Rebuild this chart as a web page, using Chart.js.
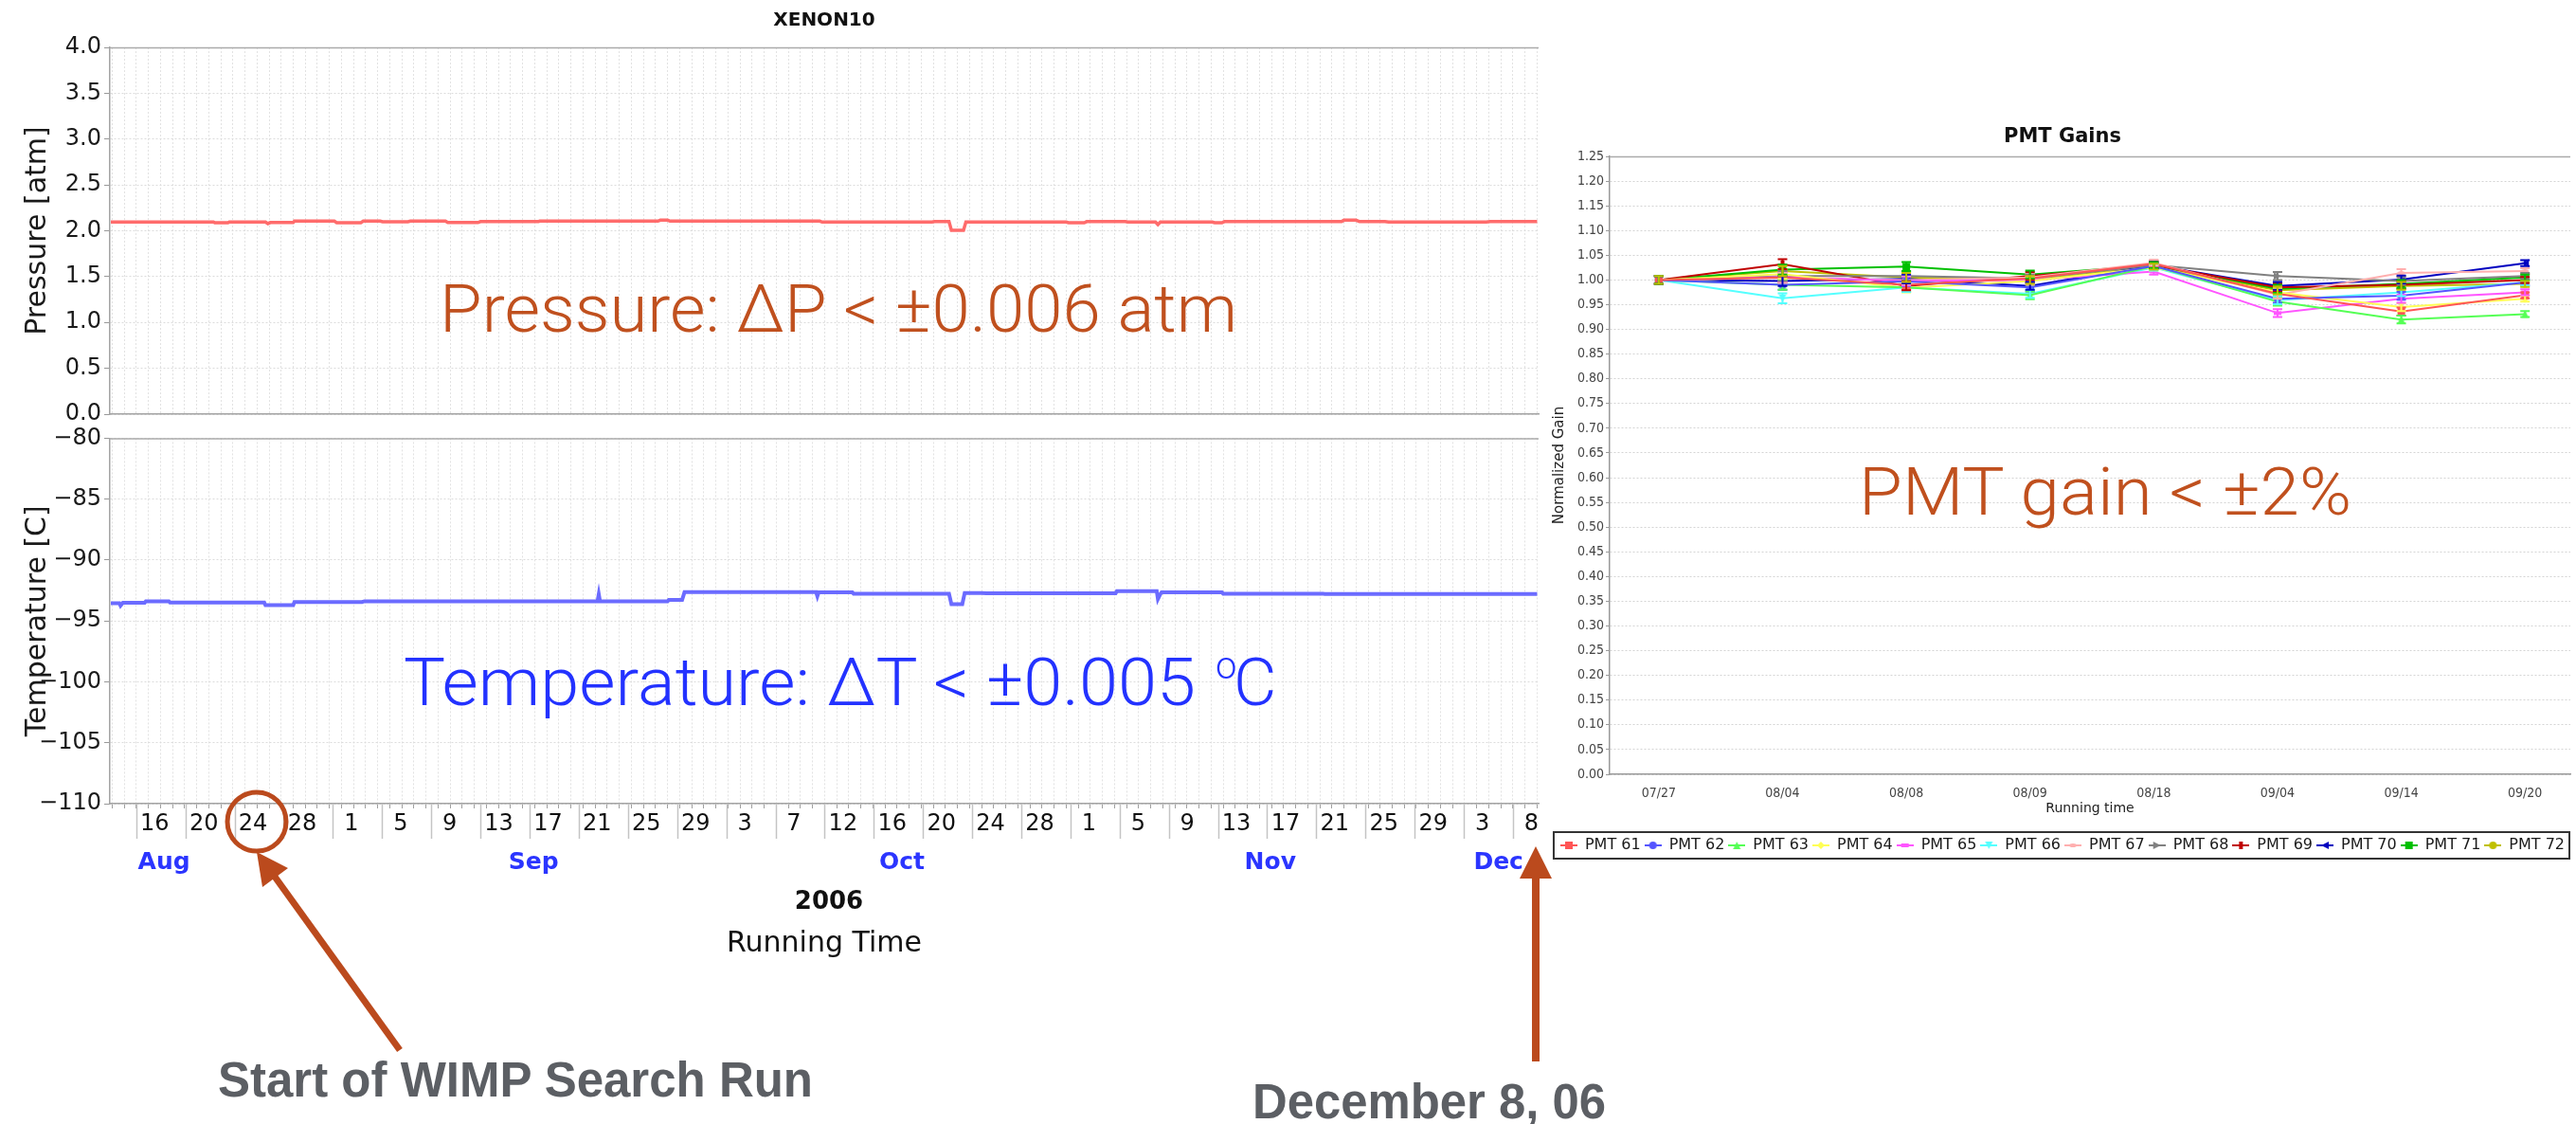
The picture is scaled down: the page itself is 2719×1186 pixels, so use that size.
<!DOCTYPE html>
<html>
<head>
<meta charset="utf-8">
<title>XENON10 stability</title>
<script src="https://cdn.jsdelivr.net/npm/chart.js"></script>
<style>
  html, body { margin: 0; padding: 0; background: #fff; }
  #page { position: relative; width: 2719px; height: 1186px; overflow: hidden; background: #fff; }
  canvas { position: absolute; }
  #cvP { left: 0; top: 0; }
  #cvT { left: 0; top: 445px; }
  #cvG { left: 1600px; top: 100px; filter: blur(0.5px); }
  #notes { position: absolute; left: 0; top: 0; }
</style>
</head>
<body>
<div id="page">
  <canvas id="cvP" width="1650" height="460" style="width:1650px;height:460px"></canvas>
  <canvas id="cvT" width="1650" height="575" style="width:1650px;height:575px"></canvas>
  <canvas id="cvG" width="1119" height="830" style="width:1119px;height:830px"></canvas>
  <svg id="notes" width="2719" height="1186" viewBox="0 0 2719 1186" xmlns="http://www.w3.org/2000/svg">
    <g font-family="Roboto, 'Open Sans', Lato, sans-serif" font-weight="300" font-size="70">
      <text x="464" y="350" fill="#c0501e" textLength="842" lengthAdjust="spacingAndGlyphs">Pressure: ΔP &lt; ±0.006 atm</text>
      <text x="426" y="744" fill="#2332ff" textLength="836" lengthAdjust="spacingAndGlyphs">Temperature: ΔT &lt; ±0.005</text>
      <text x="1283" y="716" fill="#2332ff" font-size="40">o</text>
      <text x="1302" y="744" fill="#2332ff">C</text>
      <text x="1962" y="543" fill="#c0501e" textLength="520" lengthAdjust="spacingAndGlyphs">PMT gain &lt; ±2%</text>
    </g>
    <g font-family="'Liberation Sans', Arial, Helvetica, sans-serif" font-weight="bold" font-size="51" fill="#5c5f64">
      <text x="230" y="1157" textLength="628" lengthAdjust="spacingAndGlyphs">Start of WIMP Search Run</text>
      <text x="1322" y="1180" textLength="373" lengthAdjust="spacingAndGlyphs">December 8, 06</text>
    </g>
    <g stroke="#bb4a1d" fill="none">
      <circle cx="271" cy="867" r="31" stroke-width="5"/>
      <line x1="290" y1="925" x2="422" y2="1108" stroke-width="7"/>
      <line x1="1621" y1="920" x2="1621" y2="1120" stroke-width="8"/>
    </g>
    <g fill="#bb4a1d">
      <polygon points="271,899 304,916 277,936"/>
      <polygon points="1621,893 1638,927 1604,927"/>
    </g>
  </svg>
</div>

<script>
// ---- Running time axis (days counted from 1 Aug 2006, 00:00) ----
const dayMin = 12.82;
const dayMax = 131.12;
const tickDays = [15, 19.07, 23.14, 27.21, 31.29, 35.36, 39.43, 43.5, 47.57, 51.64, 55.71, 59.79,
                  63.86, 67.93, 72.0, 76.07, 80.14, 84.21, 88.29, 92.36, 96.43, 100.5, 104.57,
                  108.64, 112.71, 116.79, 120.86, 124.93, 129.0];
const tickLabels = ['16', '20', '24', '28', '1', '5', '9', '13', '17', '21', '25', '29',
                    '3', '7', '12', '16', '20', '24', '28', '1', '5', '9', '13', '17', '21', '25', '29',
                    '3', '8'];
const labelShift = 1.53;            // day labels sit just right of their separator
const months = ['Aug', 'Sep', 'Oct', 'Nov', 'Dec'];
const monthDays = [17.3, 47.9, 78.4, 108.9, 127.8];
const yearLabel = '2006';

// ---- Pressure [atm] ----
const pressureDay = [12.9, 21.4, 21.5, 22.6, 22.7, 25.7, 25.9, 26.1, 28.0, 28.1, 31.4, 31.6, 33.6, 33.8,
  35.2, 35.4, 37.5, 37.7, 40.6, 40.8, 43.3, 43.5, 48.3, 48.4, 58.2, 58.4, 59.0, 59.2, 71.6, 71.8,
  80.9, 81.1, 82.3, 82.5, 83.5, 83.7, 92.0, 92.2, 93.5, 93.7, 96.9, 97.1, 99.4, 99.6, 99.8, 104.1,
  104.3, 104.9, 105.1, 114.8, 115.0, 116.0, 116.3, 118.4, 118.7, 126.8, 127.1, 131.0];
const pressureAtm = [2.095, 2.095, 2.088, 2.088, 2.095, 2.095, 2.078, 2.09, 2.09, 2.105, 2.105, 2.088,
  2.088, 2.105, 2.105, 2.098, 2.098, 2.105, 2.105, 2.09, 2.09, 2.1, 2.1, 2.105, 2.105, 2.115, 2.115,
  2.105, 2.105, 2.095, 2.095, 2.1, 2.1, 2.005, 2.005, 2.095, 2.095, 2.088, 2.088, 2.1, 2.1, 2.095,
  2.095, 2.068, 2.095, 2.095, 2.088, 2.088, 2.1, 2.1, 2.115, 2.115, 2.1, 2.1, 2.095, 2.095, 2.1, 2.1];

// ---- Temperature [C] ----
const tempDay = [12.9, 13.6, 13.7, 13.9, 15.7, 15.8, 17.7, 17.8, 25.6, 25.7, 28.0, 28.1, 33.7, 33.9,
  53.2, 53.3, 53.4, 59.0, 59.1, 60.2, 60.4, 71.3, 71.4, 71.5, 74.3, 74.4, 82.3, 82.5, 83.4, 83.6,
  85.0, 85.4, 96.1, 96.2, 99.5, 99.6, 99.8, 99.9, 104.9, 105.0, 113.3, 113.4, 131.0];
const tempC = [-93.54, -93.54, -93.75, -93.51, -93.51, -93.38, -93.38, -93.49, -93.49, -93.70, -93.70,
  -93.44, -93.44, -93.38, -93.38, -92.80, -93.38, -93.38, -93.28, -93.28, -92.64, -92.64, -92.97,
  -92.66, -92.66, -92.76, -92.76, -93.62, -93.62, -92.70, -92.70, -92.72, -92.72, -92.55, -92.55,
  -93.20, -92.80, -92.66, -92.66, -92.76, -92.76, -92.79, -92.79];

// ---- PMT gains (normalized) ----
const gainDates = ['07/27', '08/04', '08/08', '08/09', '08/18', '09/04', '09/14', '09/20'];
const gainErr = [0.008, 0.01, 0.009, 0.008, 0.006, 0.008, 0.008, 0.006];
const gain61 = [1.00, 1.005, 0.990, 1.003, 1.033, 0.972, 0.936, 0.969];
const gain62 = [1.00, 0.990, 0.997, 0.985, 1.028, 0.962, 0.968, 0.995];
const gain63 = [1.00, 0.990, 0.985, 0.969, 1.028, 0.956, 0.920, 0.931];
const gain64 = [1.00, 1.012, 0.984, 0.998, 1.025, 0.975, 0.945, 0.962];
const gain65 = [1.00, 1.006, 0.998, 1.000, 1.017, 0.933, 0.962, 0.975];
const gain66 = [1.00, 0.963, 0.985, 0.972, 1.025, 0.959, 0.975, 0.995];
const gain67 = [1.00, 1.004, 1.000, 1.005, 1.035, 0.970, 1.014, 1.018];
const gain68 = [1.00, 1.008, 1.008, 1.003, 1.030, 1.008, 0.998, 1.008];
const gain69 = [1.00, 1.032, 0.988, 1.008, 1.030, 0.985, 0.990, 1.000];
const gain70 = [1.00, 0.998, 1.002, 0.988, 1.030, 0.988, 1.001, 1.034];
const gain71 = [1.00, 1.021, 1.027, 1.011, 1.030, 0.982, 0.992, 1.005];
const gain72 = [1.00, 1.018, 1.005, 1.000, 1.027, 0.979, 0.988, 0.992];
const pmtIds = [61, 62, 63, 64, 65, 66, 67, 68, 69, 70, 71, 72];
const pmtGains = [gain61, gain62, gain63, gain64, gain65, gain66, gain67, gain68, gain69, gain70, gain71, gain72];

// series paint and shape sequence of the gain plot
const pmtColors = ['#ff5555', '#5555ff', '#55ff55', '#ffff55', '#ff55ff', '#55ffff',
                   '#ffafaf', '#808080', '#c00000', '#0000c0', '#00c000', '#c0c000'];
const pmtShapes = ['square', 'circle', 'triUp', 'diamond', 'hRect', 'triDown',
                   'hEllipse', 'triRight', 'vRect', 'triLeft', 'square', 'circle'];

const FONT = "'DejaVu Sans', Verdana, sans-serif";
const FONT_C = "'DejaVu Sans Condensed', 'DejaVu Sans', sans-serif";

function shapePath(ctx, shape, cx, cy, s) {
  const h = s / 2;
  ctx.beginPath();
  switch (shape) {
    case 'square': ctx.rect(cx - h, cy - h, s, s); break;
    case 'circle': ctx.arc(cx, cy, h, 0, Math.PI * 2); break;
    case 'triUp': ctx.moveTo(cx, cy - h); ctx.lineTo(cx + h, cy + h); ctx.lineTo(cx - h, cy + h); ctx.closePath(); break;
    case 'triDown': ctx.moveTo(cx - h, cy - h); ctx.lineTo(cx + h, cy - h); ctx.lineTo(cx, cy + h); ctx.closePath(); break;
    case 'triRight': ctx.moveTo(cx - h, cy - h); ctx.lineTo(cx + h, cy); ctx.lineTo(cx - h, cy + h); ctx.closePath(); break;
    case 'triLeft': ctx.moveTo(cx + h, cy - h); ctx.lineTo(cx - h, cy); ctx.lineTo(cx + h, cy + h); ctx.closePath(); break;
    case 'diamond': ctx.moveTo(cx, cy - h); ctx.lineTo(cx + h, cy); ctx.lineTo(cx, cy + h); ctx.lineTo(cx - h, cy); ctx.closePath(); break;
    case 'hRect': ctx.rect(cx - h, cy - h / 2, s, h); break;
    case 'vRect': ctx.rect(cx - h / 2, cy - h, h, s); break;
    case 'hEllipse': ctx.ellipse(cx, cy, h, h / 2, 0, 0, Math.PI * 2); break;
  }
  ctx.fill();
}

function markerImage(shape, color, s) {
  const c = document.createElement('canvas');
  c.width = s + 2; c.height = s + 2;
  const ctx = c.getContext('2d');
  ctx.fillStyle = color;
  shapePath(ctx, shape, c.width / 2, c.height / 2, s);
  return c;
}

function legendIcon(shape, color) {
  const c = document.createElement('canvas');
  c.width = 18; c.height = 12;
  const ctx = c.getContext('2d');
  ctx.strokeStyle = color; ctx.lineWidth = 2;
  ctx.beginPath(); ctx.moveTo(0, 6); ctx.lineTo(18, 6); ctx.stroke();
  ctx.fillStyle = color;
  shapePath(ctx, shape, 9, 6, 8);
  return c;
}

function dailyGrid(scale) {
  const t = [];
  for (let d = Math.ceil(scale.min); d <= Math.floor(scale.max); d++) t.push({ value: d });
  scale.ticks = t;
}

// solid frame line along the top of a plot
const topLine = {
  id: 'topLine',
  afterDraw(chart) {
    const { ctx, chartArea: a } = chart;
    ctx.save();
    ctx.strokeStyle = '#ababab';
    ctx.lineWidth = 1.5;
    ctx.beginPath();
    ctx.moveTo(a.left, a.top + 0.5);
    ctx.lineTo(a.right, a.top + 0.5);
    ctx.stroke();
    ctx.restore();
  }
};

// day / month / year rows under the running-time axis
const periodAxis = {
  id: 'periodAxis',
  afterDraw(chart) {
    const { ctx, chartArea: a, scales: { x } } = chart;
    ctx.save();
    ctx.strokeStyle = '#c4c4c4';
    ctx.lineWidth = 1.5;
    ctx.textAlign = 'center';
    ctx.textBaseline = 'middle';
    ctx.font = '24px ' + FONT;
    ctx.fillStyle = '#111';
    tickDays.forEach((d, i) => {
      const px = Math.round(x.getPixelForValue(d)) + 0.5;
      ctx.beginPath();
      ctx.moveTo(px, a.bottom);
      ctx.lineTo(px, a.bottom + 37);
      ctx.stroke();
      ctx.fillText(tickLabels[i], x.getPixelForValue(d + labelShift), a.bottom + 22);
    });
    ctx.font = 'bold 25px ' + FONT;
    ctx.fillStyle = '#2b35ff';
    months.forEach((m, j) => ctx.fillText(m, x.getPixelForValue(monthDays[j]), a.bottom + 62));
    ctx.font = 'bold 26px ' + FONT;
    ctx.fillStyle = '#111';
    ctx.fillText(yearLabel, (a.left + a.right) / 2 + 5, a.bottom + 104);
    ctx.restore();
  }
};

// capped vertical error bars on the gain points
const errorBars = {
  id: 'errorBars',
  afterDatasetsDraw(chart) {
    const { ctx, scales: { x, y } } = chart;
    chart.data.datasets.forEach(ds => {
      ctx.save();
      ctx.strokeStyle = ds.borderColor;
      ctx.lineWidth = 2;
      ds.data.forEach((p, i) => {
        const e = gainErr[i];
        const px = x.getPixelForValue(p.x);
        const t = y.getPixelForValue(p.y + e);
        const b = y.getPixelForValue(p.y - e);
        ctx.beginPath();
        ctx.moveTo(px, t); ctx.lineTo(px, b);
        ctx.moveTo(px - 5, t); ctx.lineTo(px + 5, t);
        ctx.moveTo(px - 5, b); ctx.lineTo(px + 5, b);
        ctx.stroke();
      });
      ctx.restore();
    });
  }
};

// rectangle around the legend row
const legendFrame = {
  id: 'legendFrame',
  afterDraw(chart) {
    const boxes = chart.legend && chart.legend.legendHitBoxes;
    if (!boxes || !boxes.length) return;
    const ctx = chart.ctx;
    const l = Math.min(...boxes.map(b => b.left)) - 7;
    const r = Math.max(...boxes.map(b => b.left + b.width)) + 5;
    const t = Math.min(...boxes.map(b => b.top)) - 6;
    const btm = Math.max(...boxes.map(b => b.top + b.height)) + 6;
    ctx.save();
    ctx.strokeStyle = '#333';
    ctx.lineWidth = 2;
    ctx.strokeRect(l, t, r - l, btm - t);
    ctx.restore();
  }
};

const gridGray = '#dcdcdc';
const axisGray = '#a3a3a3';

function yTicks(fmt) {
  return { font: { family: FONT, size: 24 }, color: '#1a1a1a', padding: 3, autoSkip: false, callback: fmt };
}

// ---- Pressure panel ----
new Chart(document.getElementById('cvP'), {
  type: 'line',
  data: {
    datasets: [{
      data: pressureDay.map((d, i) => ({ x: d, y: pressureAtm[i] })),
      borderColor: '#ff6b6b', borderWidth: 3.5, pointRadius: 0, tension: 0, fill: false
    }]
  },
  options: {
    responsive: false, animation: false, events: [],
    layout: { padding: { left: 18, right: 26, top: 0, bottom: 23 } },
    plugins: {
      legend: { display: false }, tooltip: { enabled: false },
      title: {
        display: true, fullSize: false, text: 'XENON10', color: '#111',
        font: { family: FONT, size: 20, weight: 'bold' }, padding: { top: 10, bottom: 16 }
      }
    },
    scales: {
      x: {
        type: 'linear', min: dayMin, max: dayMax, afterBuildTicks: dailyGrid,
        ticks: { display: false },
        grid: { color: '#e2e2e2', drawTicks: false },
        border: { color: axisGray, width: 1.5, dash: [2, 2] },
        afterFit: s => { s.height = 0; }
      },
      y: {
        min: 0, max: 4,
        ticks: Object.assign({ stepSize: 0.5 }, yTicks(v => v.toFixed(1))),
        grid: { color: gridGray, tickLength: 6, tickColor: '#999' },
        border: { color: axisGray, width: 1.5, dash: [2, 2] },
        title: { display: true, text: 'Pressure [atm]', color: '#1a1a1a', font: { family: FONT, size: 30 }, padding: { top: 4, bottom: 0 } },
        afterFit: s => { s.width = 98; }
      }
    }
  },
  plugins: [topLine]
});

// ---- Temperature panel ----
new Chart(document.getElementById('cvT'), {
  type: 'line',
  data: {
    datasets: [{
      data: tempDay.map((d, i) => ({ x: d, y: tempC[i] })),
      borderColor: '#6b6bff', borderWidth: 4, pointRadius: 0, tension: 0, fill: false
    }]
  },
  options: {
    responsive: false, animation: false, events: [],
    layout: { padding: { left: 18, right: 26, top: 16, bottom: 6 } },
    plugins: { legend: { display: false }, tooltip: { enabled: false } },
    scales: {
      x: {
        type: 'linear', min: dayMin, max: dayMax, afterBuildTicks: dailyGrid,
        ticks: { display: false },
        grid: { color: '#e2e2e2', drawTicks: true, tickLength: 5, tickColor: '#a0a0a0' },
        border: { color: axisGray, width: 1.5, dash: [2, 2] },
        title: { display: true, text: 'Running Time', color: '#111', font: { family: FONT, size: 30 }, padding: { top: 0, bottom: 0 } },
        afterFit: s => { s.height = 166; }
      },
      y: {
        min: -110, max: -80,
        ticks: Object.assign({ stepSize: 5 }, yTicks(v => (v < 0 ? '\u2212' : '') + Math.abs(v))),
        grid: { color: gridGray, tickLength: 6, tickColor: '#999' },
        border: { color: axisGray, width: 1.5, dash: [2, 2] },
        title: { display: true, text: 'Temperature [C]', color: '#1a1a1a', font: { family: FONT, size: 30 }, padding: { top: 4, bottom: 0 } },
        afterFit: s => { s.width = 98; }
      }
    }
  },
  plugins: [topLine, periodAxis]
});

// ---- PMT gain panel ----
const markers = pmtShapes.map((s, k) => markerImage(s, pmtColors[k], 8));
const icons = pmtShapes.map((s, k) => legendIcon(s, pmtColors[k]));

new Chart(document.getElementById('cvG'), {
  type: 'line',
  data: {
    datasets: pmtIds.map((id, k) => ({
      label: 'PMT ' + id,
      data: pmtGains[k].map((v, i) => ({ x: i, y: v })),
      borderColor: pmtColors[k], backgroundColor: pmtColors[k],
      borderWidth: 2, tension: 0, fill: false,
      pointStyle: markers[k], pointRadius: 4, pointHoverRadius: 4
    }))
  },
  options: {
    responsive: false, animation: false, events: [],
    layout: { padding: { left: 37, right: 2, top: 0, bottom: 20 } },
    plugins: {
      tooltip: { enabled: false },
      title: {
        display: true, text: 'PMT Gains', color: '#111',
        font: { family: FONT, size: 21, weight: 'bold' }, padding: { top: 32.4, bottom: 7.4 }
      },
      legend: {
        position: 'bottom',
        labels: {
          usePointStyle: true, pointStyleWidth: 18, padding: 4, color: '#1a1a1a',
          font: { family: FONT, size: 16 },
          generateLabels: chart => chart.data.datasets.map((ds, i) => ({
            text: ds.label, fillStyle: ds.borderColor, strokeStyle: ds.borderColor,
            lineWidth: 0, pointStyle: icons[i], hidden: false, datasetIndex: i, fontColor: '#1a1a1a'
          }))
        }
      }
    },
    scales: {
      x: {
        type: 'linear', min: -0.397, max: 7.366,
        afterBuildTicks: s => { s.ticks = gainDates.map((_, i) => ({ value: i })); },
        ticks: { font: { family: FONT_C, size: 14 }, color: '#444', padding: 4, autoSkip: false, maxRotation: 0,
                 callback: v => gainDates[v] },
        grid: { display: false },
        border: { color: '#999', width: 1.5 },
        title: { display: true, text: 'Running time', color: '#222', font: { family: FONT, size: 14 }, padding: { top: 0, bottom: 18 } },
        afterFit: s => { s.height = 63; }
      },
      y: {
        min: 0, max: 1.25,
        ticks: { stepSize: 0.05, autoSkip: false, font: { family: FONT_C, size: 14 }, color: '#444', padding: 2,
                 callback: v => v.toFixed(2) },
        grid: { color: '#d4d4d4', tickLength: 4, tickColor: '#999' },
        border: { color: '#999', width: 1.5, dash: [2, 2] },
        title: { display: true, text: 'Normalized Gain', color: '#222', font: { family: FONT, size: 15 }, padding: { top: 0, bottom: 0 } },
        afterFit: s => { s.width = 62; }
      }
    }
  },
  plugins: [topLine, errorBars, legendFrame]
});
</script>
</body>
</html>
